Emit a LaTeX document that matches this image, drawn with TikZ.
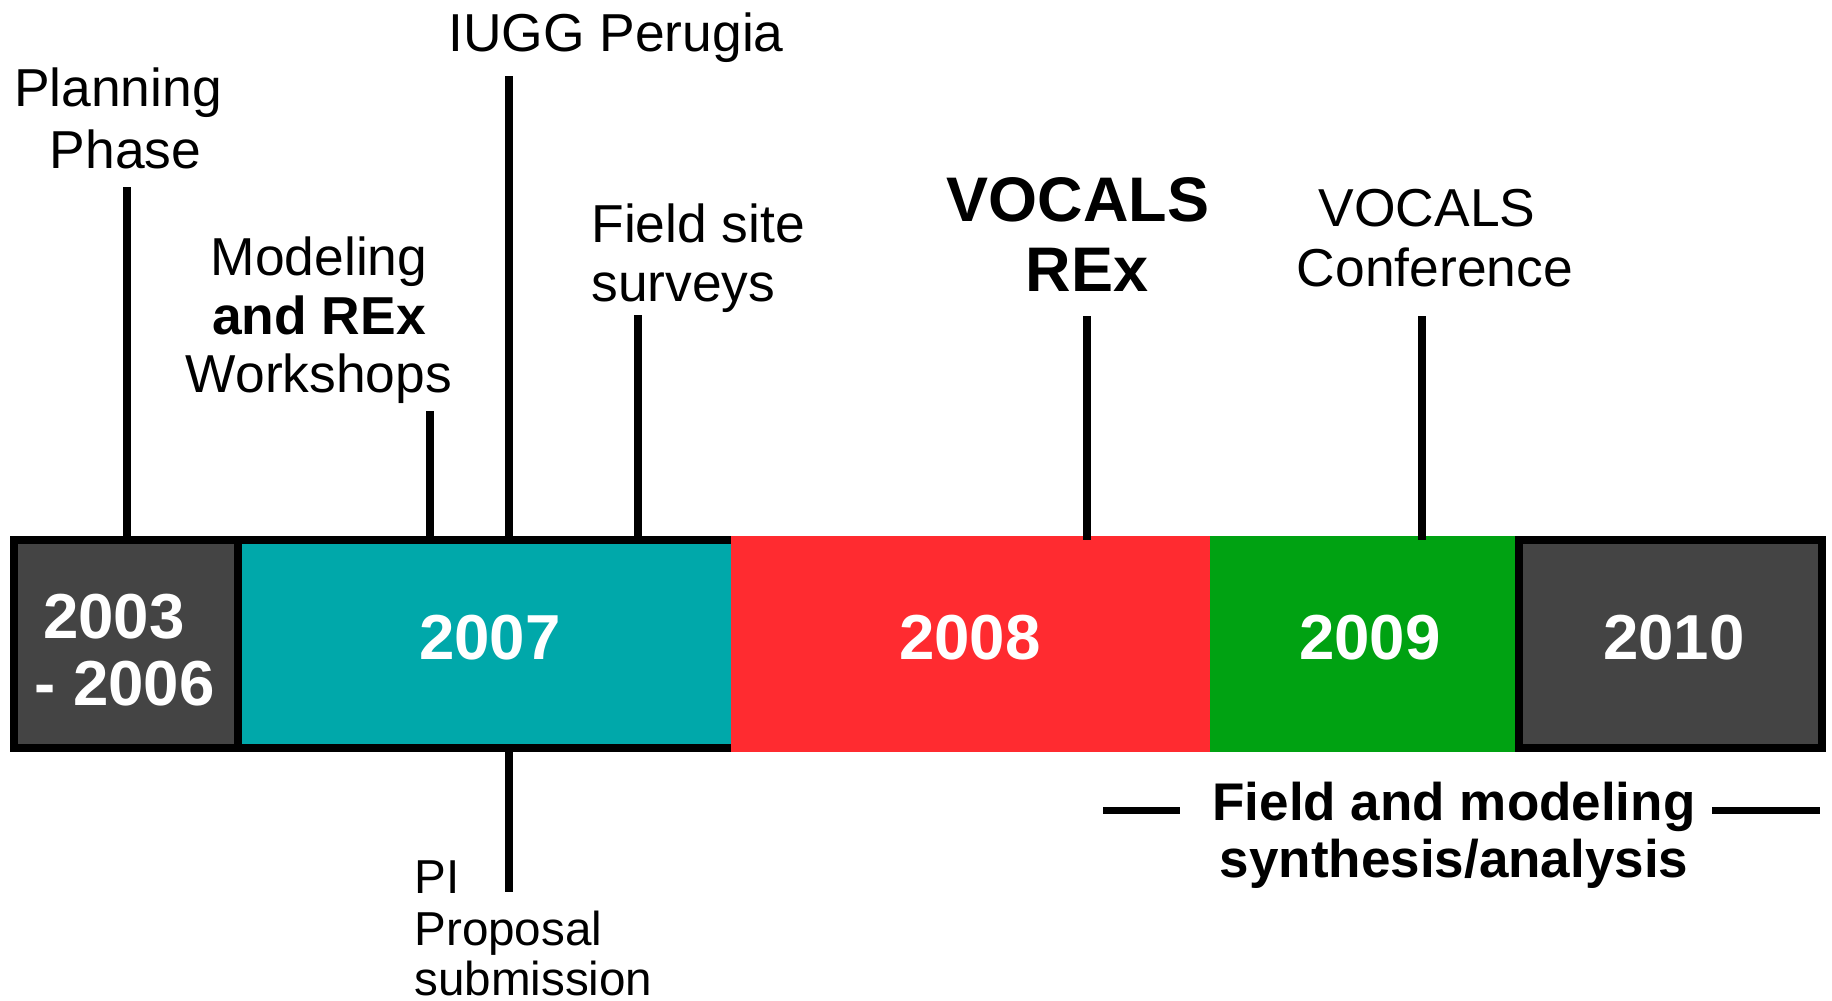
\documentclass[tikz,border=0pt]{standalone}
\usepackage{fontspec}
\setmainfont{Liberation Sans}
\definecolor{darkbox}{HTML}{444444}
\definecolor{tealbox}{HTML}{00A8AA}
\definecolor{redbox}{HTML}{FF2B30}
\definecolor{greenbox}{HTML}{00A212}
\tikzset{
  reg/.style={font=\fontsize{26.7}{30}\selectfont, inner sep=0pt, anchor=base},
  regL/.style={reg, anchor=base west},
  small/.style={font=\fontsize{23.8}{28}\selectfont, inner sep=0pt, anchor=base west},
  big/.style={font=\fontsize{31.5}{36}\selectfont\bfseries, inner sep=0pt, anchor=base},
  yr/.style={font=\fontsize{31.8}{36}\selectfont\bfseries, text=white, inner sep=0pt, anchor=base},
  syn/.style={font=\fontsize{26.5}{30}\selectfont\bfseries, inner sep=0pt, anchor=base},
  seg/.style={rectangle, inner sep=0pt, outer sep=0pt},
  framed/.style={seg, draw=black, line width=4pt, minimum height=104pt},
  plain/.style={seg, minimum height=108pt},
  tick/.style={line width=3.75pt},
}
\begin{document}
\begin{tikzpicture}[x=0.5pt,y=-0.5pt]
\useasboundingbox (0,0) rectangle (1832,1001);
% bar segments
\node[framed, fill=darkbox, minimum width=112pt] (s1) at (126,644) {};
\node[framed, fill=tealbox, minimum width=248.3pt] (s2) at (486.3,644) {};
\node[plain, fill=redbox, minimum width=239.7pt] (s3) at (970.3,644) {};
\node[plain, fill=greenbox, minimum width=152.3pt] (s4) at (1362.3,644) {};
\node[framed, fill=darkbox, minimum width=151.45pt] (s5) at (1670.05,644) {};
% year labels
\node[yr] (y1a) at (114,638) {2003};
\node[yr] (y1b) at (124.6,705.5) {- 2006};
\node[yr] (y2) at (490,659) {2007};
\node[yr] (y3) at (970,659) {2008};
\node[yr] (y4) at (1370,659) {2009};
\node[yr] (y5) at (1674,659) {2010};
% labels above
\node[reg] (plan1) at (118,106.4) {Planning};
\node[reg] (plan2) at (125.6,168.4) {Phase};
\node[reg] (mod1) at (319,275.8) {Modeling};
\node[reg,font=\fontsize{26.7}{30}\selectfont\bfseries] (mod2) at (319,334.3) {and REx};
\node[reg] (mod3) at (319,392.8) {Workshops};
\node[reg] (iugg) at (616,51.5) {IUGG Perugia};
\node[regL] (fs1) at (591,242.8) {Field site};
\node[regL] (fs2) at (591,301) {surveys};
\node[big] (rex1) at (1078,221) {VOCALS};
\node[big] (rex2) at (1087,291) {REx};
\node[reg] (conf1) at (1427,226.8) {VOCALS};
\node[reg] (conf2) at (1435,286.4) {Conference};
% labels below
\node[small] (pi1) at (414,893) {PI};
\node[small] (pi2) at (414,945) {Proposal};
\node[small] (pi3) at (414,995) {submission};
\node[syn] (syn1) at (1454,820) {Field and modeling};
\node[syn] (syn2) at (1454,877) {synthesis/analysis};
% tick tops
\coordinate (tPlan) at (127,187);
\coordinate (tMod) at (430,411);
\coordinate (tIugg) at (509,76);
\coordinate (tField) at (638,315);
\coordinate (tRex) at (1087,316);
\coordinate (tConf) at (1422,316);
\coordinate (tPi) at (509,892);
\draw[tick] (tPlan) -- (tPlan |- s1.north);
\draw[tick] (tMod) -- (tMod |- s1.north);
\draw[tick] (tIugg) -- (tIugg |- s1.north);
\draw[tick] (tField) -- (tField |- s1.north);
\draw[tick] (tRex) -- (tRex |- s1.north);
\draw[tick] (tConf) -- (tConf |- s1.north);
\draw[tick] (tPi |- s2.south) -- (tPi);
% dashes beside synthesis label
\coordinate (dL1) at (1103,810);
\coordinate (dL2) at (1180,810);
\coordinate (dR1) at (1712,810);
\coordinate (dR2) at (1820,810);
\draw[line width=3.5pt] (dL1) -- (dL2);
\draw[line width=3.5pt] (dR1) -- (dR2);
\end{tikzpicture}
\end{document}
